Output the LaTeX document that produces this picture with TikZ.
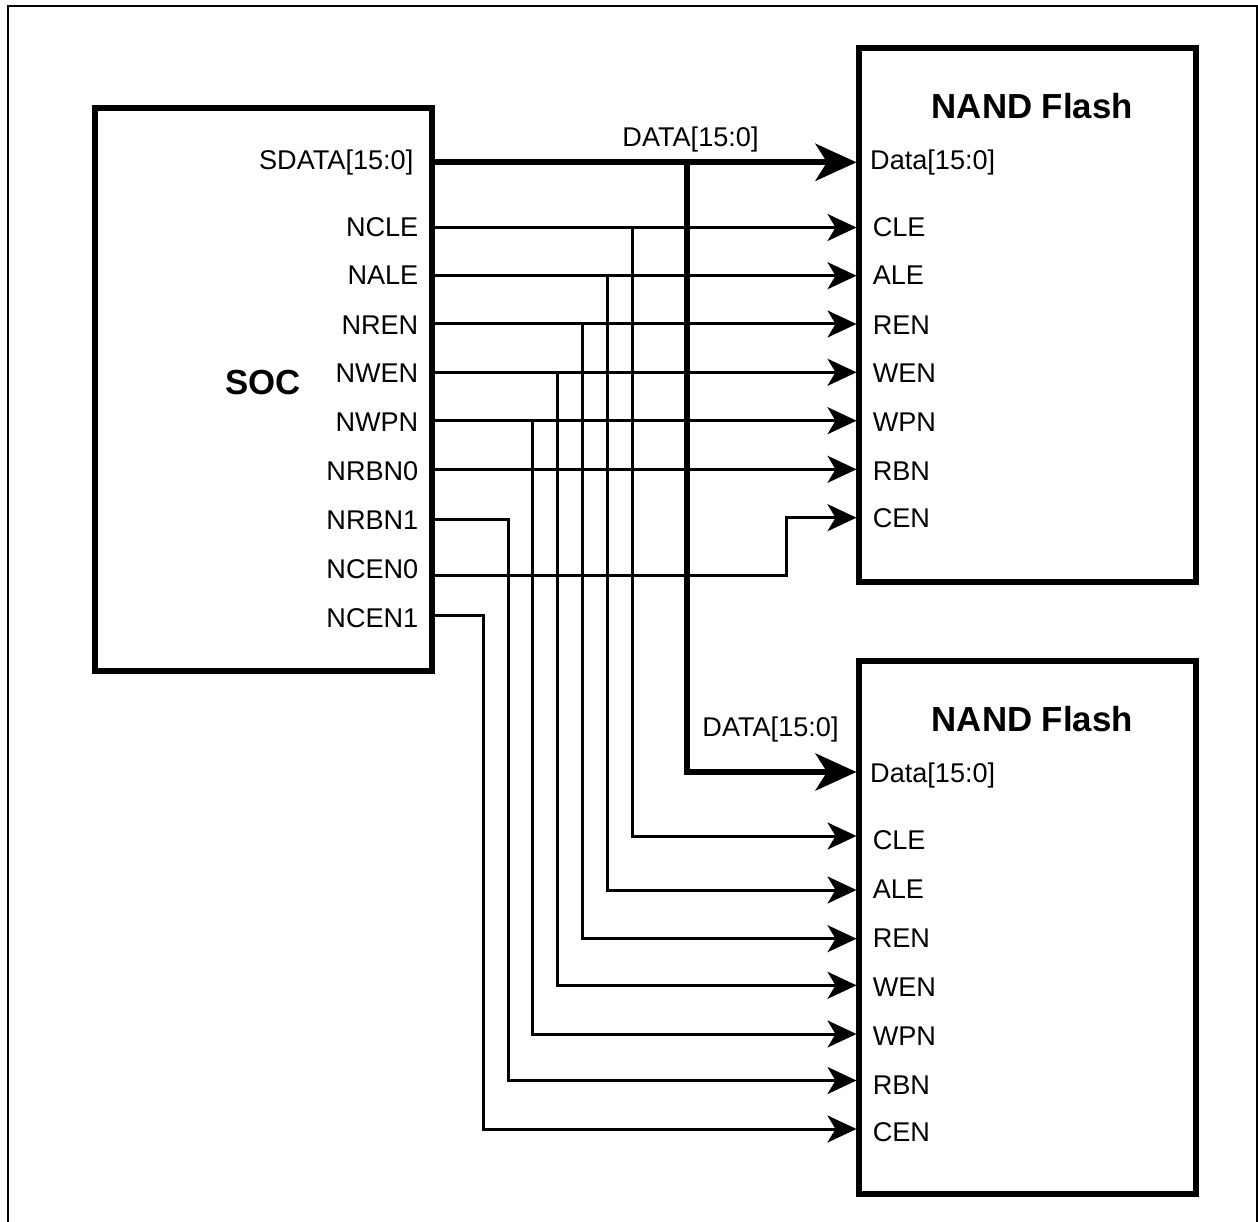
\documentclass[tikz,border=0pt]{standalone}
\usepackage{fontspec}
\setmainfont{Liberation Sans}
\usetikzlibrary{arrows.meta}
\tikzset{
  chip/.style={draw=black,line width=6pt,rectangle,inner sep=0pt,minimum width=337pt},
  pinlabel/.style={font=\fontsize{27.1}{29}\selectfont,inner sep=0pt,text=black},
  lleft/.style={pinlabel,anchor=base east},
  lright/.style={pinlabel,anchor=base west},
  titlelabel/.style={font=\fontsize{34.8}{36}\selectfont\bfseries,inner sep=0pt,anchor=base},
  wire/.style={line width=3pt,-{Stealth[length=29pt,width=27pt,inset=8pt]}},
  bus/.style={line width=6pt,-{Stealth[length=41pt,width=37pt,inset=11.5pt]}},
  frameline/.style={line width=2.2pt,draw=black}
}
\begin{document}
\begin{tikzpicture}[x=1pt,y=-1pt]
\useasboundingbox (0,0) rectangle (1258,1222);
\coordinate (fa) at (8,1230);
\coordinate (fb) at (8,6);
\coordinate (fc) at (1257,6);
\coordinate (fd) at (1257,1230);
\draw[frameline] (fa) -- (fb) -- (fc) -- (fd);

\node[chip,minimum height=562.7pt] (soc) at (263.5,389.6) {};
\node[chip,minimum height=533.4pt] (nf1) at (1027.5,315) {};
\node[chip,minimum height=533pt] (nf2) at (1027.5,927.5) {};

\node[titlelabel] (soct) at (263.3,394.3) {SOC};
\node[titlelabel] (nf1t) at (1032.3,118.3) {NAND Flash};
\node[titlelabel] (nf2t) at (1032.3,731.7) {NAND Flash};

% SOC pins
\coordinate (s0) at (432,162.3);
\coordinate (s1) at (432,227.5);
\coordinate (s2) at (432,275.7);
\coordinate (s3) at (432,324);
\coordinate (s4) at (432,372.3);
\coordinate (s5) at (432,420.7);
\coordinate (s6) at (432,469.3);
\coordinate (s7) at (432,519.7);
\coordinate (s8) at (432,575);
\coordinate (s9) at (432,615);
\node[lleft] (ls0) at (413.5,170) {SDATA[15:0]};
\node[lleft] (ls1) at (418.5,236.7) {NCLE};
\node[lleft] (ls2) at (418.5,285) {NALE};
\node[lleft] (ls3) at (418.5,334.3) {NREN};
\node[lleft] (ls4) at (418.5,383) {NWEN};
\node[lleft] (ls5) at (418.5,431.7) {NWPN};
\node[lleft] (ls6) at (418.5,480.7) {NRBN0};
\node[lleft] (ls7) at (418.5,529.3) {NRBN1};
\node[lleft] (ls8) at (418.5,578.3) {NCEN0};
\node[lleft] (ls9) at (418.5,627.3) {NCEN1};

% first flash pins
\coordinate (a0) at (856.5,162.3);
\coordinate (a1) at (856.5,227.5);
\coordinate (a2) at (856.5,275.7);
\coordinate (a3) at (856.5,324);
\coordinate (a4) at (856.5,372.3);
\coordinate (a5) at (856.5,420.7);
\coordinate (a6) at (856.5,469.3);
\coordinate (a7) at (856.5,517.7);
\node[lright] (la0) at (870,169.3) {Data[15:0]};
\node[lright] (la1) at (872.6,236.7) {CLE};
\node[lright] (la2) at (872.6,285) {ALE};
\node[lright] (la3) at (872.6,334.3) {REN};
\node[lright] (la4) at (872.6,383) {WEN};
\node[lright] (la5) at (872.6,431.7) {WPN};
\node[lright] (la6) at (872.6,480.3) {RBN};
\node[lright] (la7) at (872.6,527.3) {CEN};

% second flash pins
\coordinate (b0) at (856.5,772);
\coordinate (b1) at (856.5,836);
\coordinate (b2) at (856.5,890);
\coordinate (b3) at (856.5,938.7);
\coordinate (b4) at (856.5,985.3);
\coordinate (b5) at (856.5,1034);
\coordinate (b6) at (856.5,1080.5);
\coordinate (b7) at (856.5,1129);
\node[lright] (lb0) at (870,782.7) {Data[15:0]};
\node[lright] (lb1) at (872.6,849.3) {CLE};
\node[lright] (lb2) at (872.6,898.3) {ALE};
\node[lright] (lb3) at (872.6,947.3) {REN};
\node[lright] (lb4) at (872.6,996) {WEN};
\node[lright] (lb5) at (872.6,1045) {WPN};
\node[lright] (lb6) at (872.6,1094) {RBN};
\node[lright] (lb7) at (872.6,1141) {CEN};

% branch points
\coordinate (j0) at (687,162.3);
\coordinate (j1) at (632,227.5);
\coordinate (j2) at (607,275.7);
\coordinate (j3) at (582,324);
\coordinate (j4) at (557.3,372.3);
\coordinate (j5) at (532.7,420.7);
\coordinate (j6) at (508.3,519.7);
\coordinate (j7) at (483.3,615);
\coordinate (k8) at (786.7,575);

\node[pinlabel,anchor=base] (d1) at (690.5,146.7) {DATA[15:0]};
\node[pinlabel,anchor=base] (d2) at (770.5,736) {DATA[15:0]};

% thin wires
\draw[wire] (s1) -- (a1);
\draw[wire] (s2) -- (a2);
\draw[wire] (s3) -- (a3);
\draw[wire] (s4) -- (a4);
\draw[wire] (s5) -- (a5);
\draw[wire] (s6) -- (a6);
\draw[wire] (s8) -- (k8) |- (a7);
\draw[wire] (j1) |- (b1);
\draw[wire] (j2) |- (b2);
\draw[wire] (j3) |- (b3);
\draw[wire] (j4) |- (b4);
\draw[wire] (j5) |- (b5);
\draw[wire] (s7) -- (j6) |- (b6);
\draw[wire] (s9) -- (j7) |- (b7);
% bus
\draw[bus] (s0) -- (a0);
\draw[bus] (j0) |- (b0);
\end{tikzpicture}
\end{document}
